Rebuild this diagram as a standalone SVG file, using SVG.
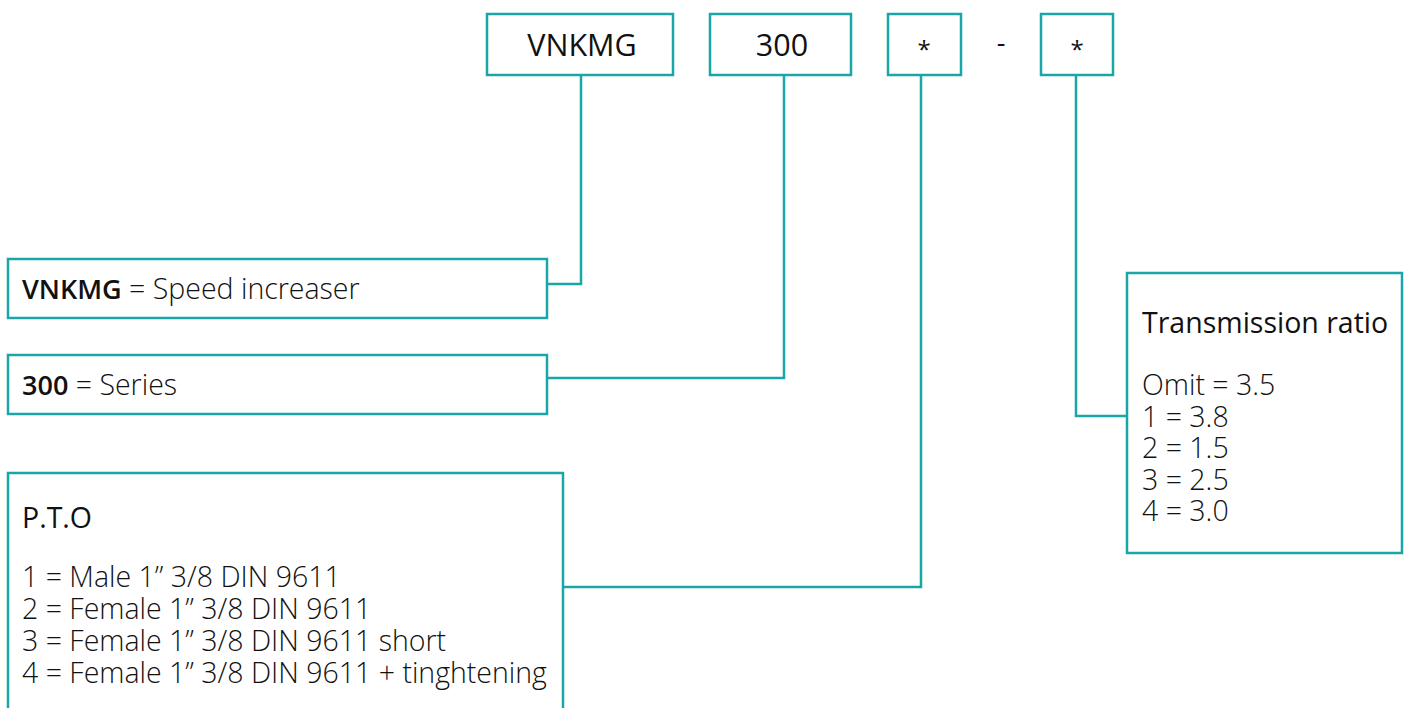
<svg xmlns="http://www.w3.org/2000/svg" width="1408" height="708" viewBox="0 0 1408 708">
<style>
.box{fill:#fff;stroke:#1aa6a8;stroke-width:2.5}
.con{fill:none;stroke:#1aa6a8;stroke-width:2.5}
text{font-family:"Open Sans","Noto Sans","Liberation Sans",sans-serif;fill:#111;font-size:28.5px}
.t{font-weight:400;text-anchor:middle;font-size:30.5px}
.l{font-weight:300}
.b{font-weight:600;font-size:27px}
</style>
<rect width="1408" height="708" fill="#fff"/>
<g id="connectors">
<polyline class="con" points="581,75 581,284 547,284"/>
<polyline class="con" points="784,75 784,378 547,378"/>
<polyline class="con" points="921,75 921,587 563,587"/>
<polyline class="con" points="1076,75 1076,416 1127,416"/>
</g>
<g id="code-vnkmg"><rect class="box" x="487" y="14" width="186" height="61"/><text class="t" x="582" y="56">VNKMG</text></g>
<g id="code-300"><rect class="box" x="710" y="14" width="141" height="61"/><text class="t" x="782" y="56">300</text></g>
<g id="code-star1"><rect class="box" x="888" y="14" width="73" height="61"/><text class="t" x="924" y="58" style="font-size:24px">*</text></g>
<text class="t" x="1001" y="52" style="font-size:27px">-</text>
<g id="code-star2"><rect class="box" x="1041" y="14" width="72" height="61"/><text class="t" x="1077" y="58" style="font-size:24px">*</text></g>
<g id="desc-vnkmg"><rect class="box" x="8" y="259" width="539" height="59"/><text x="22" y="299"><tspan class="b">VNKMG</tspan><tspan class="l"> = Speed increaser</tspan></text></g>
<g id="desc-300"><rect class="box" x="8" y="355" width="539" height="59"/><text x="22" y="395"><tspan class="b">300</tspan><tspan class="l"> = Series</tspan></text></g>
<g id="desc-pto"><rect class="box" x="8" y="473" width="555" height="245"/>
<text x="22" y="528">P.T.O</text>
<text class="l" x="22" y="587">1 = Male 1” 3/8 DIN 9611<tspan x="22" dy="31.5">2 = Female 1” 3/8 DIN 9611</tspan><tspan x="22" dy="32">3 = Female 1” 3/8 DIN 9611 short</tspan><tspan x="22" dy="32">4 = Female 1” 3/8 DIN 9611 + tinghtening</tspan></text>
</g>
<g id="desc-ratio"><rect class="box" x="1127" y="273" width="275" height="280"/>
<text x="1142" y="333">Transmission ratio</text>
<text class="l" x="1142" y="395">Omit = 3.5<tspan x="1142" dy="31.5">1 = 3.8</tspan><tspan x="1142" dy="31.5">2 = 1.5</tspan><tspan x="1142" dy="31.5">3 = 2.5</tspan><tspan x="1142" dy="31.5">4 = 3.0</tspan></text>
</g>
</svg>
